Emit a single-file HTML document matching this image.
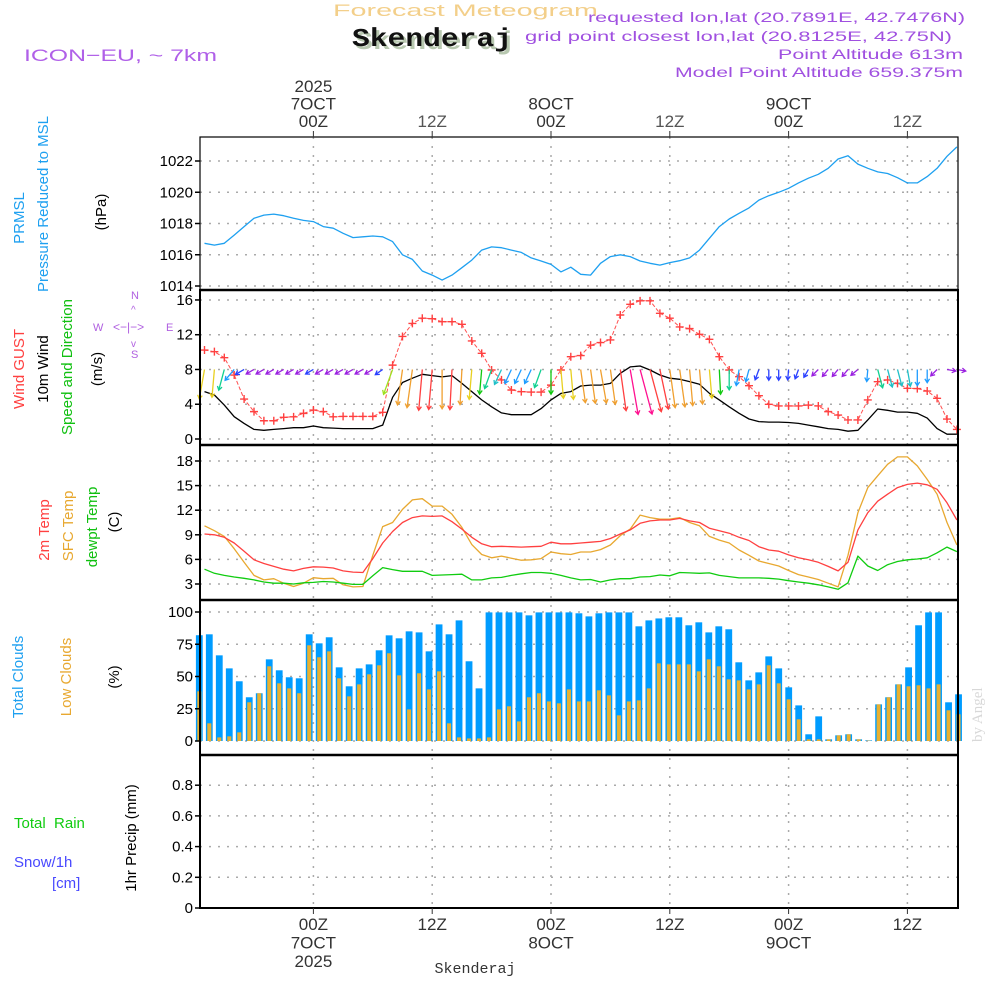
<!DOCTYPE html>
<html><head><meta charset="utf-8"><title>Forecast Meteogram Skenderaj</title>
<style>
html,body{margin:0;padding:0;background:#fff;}
svg{display:block;font-family:"Liberation Sans",sans-serif;}
</style></head>
<body>
<svg id="chart" width="1000" height="1000" viewBox="0 0 1000 1000" xmlns="http://www.w3.org/2000/svg">
<rect width="1000" height="1000" fill="#fff"/>
<text x="333" y="16" font-size="17" fill="#f3cf8a" textLength="265" lengthAdjust="spacingAndGlyphs">Forecast Meteogram</text>
<text x="355" y="49" font-family="Liberation Mono" font-weight="bold" font-size="26" fill="#b8c8b0" textLength="160" lengthAdjust="spacingAndGlyphs">Skenderaj</text>
<text x="352" y="46" font-family="Liberation Mono" font-weight="bold" font-size="26" fill="#111" textLength="160" lengthAdjust="spacingAndGlyphs">Skenderaj</text>
<text x="24" y="61" font-size="17" fill="#b060e8" textLength="193" lengthAdjust="spacingAndGlyphs">ICON−EU, ~ 7km</text>
<text x="588" y="22" font-size="14" fill="#a050e0" textLength="377" lengthAdjust="spacingAndGlyphs">requested lon,lat (20.7891E, 42.7476N)</text>
<text x="525" y="41" font-size="14" fill="#a050e0" textLength="427" lengthAdjust="spacingAndGlyphs">grid point closest lon,lat (20.8125E, 42.75N)</text>
<text x="778" y="59" font-size="14" fill="#a050e0" textLength="185" lengthAdjust="spacingAndGlyphs">Point Altitude 613m</text>
<text x="675" y="77" font-size="14" fill="#a050e0" textLength="288" lengthAdjust="spacingAndGlyphs">Model Point Altitude 659.375m</text>
<text transform="translate(982,742) rotate(-90)" font-family="Liberation Serif" font-size="15" fill="#d8d8d8">by Angel</text>

<g fill="#b060e0" font-size="11">
<text x="131" y="299">N</text><text x="93" y="331">W</text><text x="166" y="331">E</text><text x="131" y="358">S</text>
<text x="113" y="331" font-size="12">&lt;−|−&gt;</text>
<text x="131" y="313" font-size="10">^</text><text x="131" y="347" font-size="10">v</text>
</g>

<g id="labels" font-size="15"></g>
<g id="grid"></g>
<g id="marks"></g>
<g id="frames"></g>
<g id="axes"></g>
</svg>
<script>
// ---- data (hourly, index 0 = 13Z 6 OCT) ----
const pressure = [1016.73,1016.62,1016.73,1017.26,1017.8,1018.33,1018.54,1018.6,1018.5,1018.33,1018.2,1018.12,1017.8,1017.7,1017.37,1017.1,1017.15,1017.2,1017.15,1016.84,1016.0,1015.7,1014.96,1014.7,1014.38,1014.7,1015.17,1015.66,1016.3,1016.5,1016.45,1016.3,1016.15,1015.8,1015.6,1015.38,1014.9,1015.2,1014.75,1014.7,1015.45,1015.88,1016.0,1015.88,1015.6,1015.45,1015.34,1015.5,1015.62,1015.8,1016.3,1017.05,1017.8,1018.29,1018.65,1019.0,1019.5,1019.78,1020.0,1020.25,1020.6,1020.9,1021.15,1021.53,1022.13,1022.34,1021.8,1021.53,1021.3,1021.2,1020.93,1020.6,1020.6,1021.0,1021.53,1022.3,1022.9];
const gust = [10.24,10.05,9.36,7.36,4.6,3.15,2.1,2.1,2.5,2.55,2.95,3.33,3.15,2.55,2.6,2.6,2.6,2.6,3.07,8.5,11.8,13.3,13.9,13.85,13.5,13.5,13.2,11.28,9.86,7.94,6.8,5.64,5.45,5.4,5.4,6.2,7.94,9.47,9.6,10.8,11.1,11.4,14.27,15.5,15.9,15.9,14.46,13.9,12.9,12.7,12.05,11.47,9.47,7.94,7.17,6.13,4.98,3.99,3.8,3.8,3.8,3.9,3.8,3.15,2.76,2.19,2.19,4.5,6.6,6.8,6.4,5.83,5.8,5.52,4.68,2.3,1.1];
const wind10 = [5.45,5.06,3.9,2.57,1.8,1.1,1.0,1.1,1.2,1.3,1.3,1.5,1.3,1.25,1.2,1.2,1.2,1.2,1.6,4.8,6.5,7.0,7.45,7.3,7.15,7.3,6.4,5.45,4.5,3.7,3.0,2.8,2.8,2.8,3.5,4.5,5.25,5.45,6.1,6.2,6.2,6.4,7.56,8.3,8.4,7.94,7.36,7.0,6.87,6.6,6.3,5.26,4.5,3.7,2.96,2.3,2.0,1.95,1.95,1.9,1.8,1.6,1.4,1.2,1.1,0.9,1.0,2.2,3.45,3.3,3.1,3.1,2.96,2.4,1.2,0.55,0.55];
const windDir = [-10,-5,-15,-40,-60,-60,-60,-60,-60,-60,-60,-60,-60,-60,-60,-60,-60,-60,-55,-20,-8,-8,-5,-5,0,-3,-3,-5,-5,-20,-25,-25,-25,-25,-20,0,5,5,8,8,10,8,8,10,15,15,12,8,8,5,5,5,3,0,-10,-15,-20,0,0,-5,-20,-30,-45,-40,-40,-40,-50,-5,15,15,15,10,0,0,-45,80,80];
const temp2m = [9.1,9.0,8.7,8.0,7.0,5.95,5.5,5.15,4.8,4.6,4.9,5.1,5.06,4.95,4.6,4.45,4.4,6.1,8.0,9.4,10.5,11.1,11.3,11.25,11.3,10.6,9.7,8.7,7.9,7.55,7.6,7.55,7.5,7.55,7.6,8.1,7.9,7.9,8.0,8.1,8.2,8.55,9.1,9.6,10.4,10.7,10.8,10.8,11.0,10.7,10.5,9.8,9.5,9.2,8.7,8.3,7.55,7.15,7.0,6.55,6.2,5.95,5.65,5.15,4.6,5.65,9.6,11.7,13.1,13.95,14.75,15.15,15.3,15.1,14.55,12.9,10.8];
const tempSfc = [10.1,9.5,8.8,7.3,5.65,4.05,3.5,3.65,3.1,2.7,3.1,3.77,3.65,3.7,2.9,2.65,2.7,6.5,10.0,10.5,12.1,13.25,13.4,12.5,12.5,11.5,9.9,7.8,6.6,6.2,6.4,6.15,5.9,5.95,6.1,6.9,6.7,6.6,6.9,6.9,7.2,7.75,8.9,9.7,11.4,11.1,10.9,10.9,11.1,10.5,10.1,8.8,8.35,8.0,7.15,6.5,5.8,5.5,5.2,4.65,4.15,3.85,3.55,3.1,2.65,6.5,11.7,14.75,16.2,17.6,18.5,18.5,17.4,15.75,13.95,10.5,7.75];
const dewpt = [4.8,4.3,4.05,3.85,3.7,3.5,3.25,3.1,3.1,3.0,3.15,3.2,3.3,3.25,3.1,2.95,2.95,4.0,5.0,4.75,4.55,4.55,4.55,4.05,4.1,4.15,4.2,3.5,3.5,3.75,3.8,4.05,4.25,4.4,4.4,4.3,4.05,3.75,3.5,3.55,3.25,3.5,3.65,3.65,3.85,3.9,4.1,4.0,4.4,4.35,4.3,4.35,4.05,3.9,3.75,3.75,3.75,3.7,3.6,3.4,3.25,3.1,2.9,2.65,2.35,3.15,6.4,5.2,4.65,5.35,5.75,5.95,6.05,6.2,6.8,7.5,6.95];
const totalClouds = [82,82.7,66.4,56.3,46.3,33.9,37,63.3,54.8,49.4,48.6,82.7,75.7,80.4,57.1,42.4,56.3,59.4,70.3,81.9,79.6,85,84.2,69.5,90.4,82.7,93.5,61.8,40.8,99.7,99.7,99.7,99.7,97.4,99.7,99.7,99.7,99.7,99,96.6,99,99.7,99.7,99.7,88.9,93.5,95,95.9,95.9,89.7,92,84.2,88.9,86.6,61,47,53.2,65.6,56.3,41.6,27.6,5.2,19.1,1.3,4.4,5.2,1.3,0.5,28.4,33.9,43.9,57.1,89.7,99.7,99.7,30,36.2];
const lowClouds = [38.5,13.7,2.8,3.6,6.7,30,37,57.9,44.7,40.8,37,74.2,64.9,69.5,48.6,34.6,43.9,51.7,58.7,68,50.9,24.5,52.5,40,54,13.7,2.8,2,2,2.8,24.5,26.9,15.2,33.9,37,30.7,29.2,40,30.7,30.7,39.3,35.4,19.9,30.7,31.5,40.8,60.2,59.4,59.4,59.4,54,63.3,57.9,47.8,47,40,43.9,58.7,44.7,32.3,16.8,1.3,1.3,1.3,4.4,5.2,1.3,0.3,28.4,33.9,43.9,42.4,43.2,40.8,43.9,23.8,20.7];
const pTicks = [1014,1016,1018,1020,1022];
const wTicks = [0,4,8,12,16];
const tTicks = [3,6,9,12,15,18];
const cTicks = [0,25,50,75,100];
const rTicks = ["0","0.2","0.4","0.6","0.8"];
const timeTickIdx = [11,23,35,47,59,71];
const timeTopLabels = [["2025","7OCT","00Z"],["12Z"],["8OCT","00Z"],["12Z"],["9OCT","00Z"],["12Z"]];
const timeBotLabels = [["00Z","7OCT","2025"],["12Z"],["00Z","8OCT"],["12Z"],["00Z","9OCT"],["12Z"]];

// ---- layout / scales ----
const NS='http://www.w3.org/2000/svg';
const X0=200, X1=958;
const xLine = i => 204.5 + 9.9*i;
const xBar = k => 199.3 + 9.99*k;
const yP = v => 286 - (v-1014)*15.625;
const yW = v => 439 - v*8.69;
const yT = v => 584 - (v-3)*8.2;
const yC = v => 741 - v*1.29;
const yR = v => 908 - v*153.5;
const panels=[[137,290],[290,445],[445,600],[600,755],[755,908]];

function el(tag, attrs, parent){const e=document.createElementNS(NS,tag);for(const k in attrs)e.setAttribute(k,attrs[k]);parent.appendChild(e);return e;}
const G=id=>document.getElementById(id);
const grid=G('grid'), marks=G('marks'), frames=G('frames'), axes=G('axes'), labels=G('labels');

function yAxis(ticks, fy, name){
  ticks.forEach(t=>{
    const v=parseFloat(t), y=fy(v);
    const g=el('line',{x1:X0,x2:X1,y1:y,y2:y,stroke:'#aaa','stroke-width':1.5,'stroke-dasharray':'2,7'},grid);
    
    
    const tk=el('line',{x1:X0-5,x2:X0,y1:y,y2:y,stroke:'#000','stroke-width':1.5},axes);
    
    
    const tx=el('text',{x:X0-7,y:y+5,'text-anchor':'end','font-size':15,fill:'#000'},axes);
    
    
    tx.textContent=t;
  });
}
yAxis(pTicks,yP,'pressure');yAxis(wTicks,yW,'wind');yAxis(tTicks,yT,'temp');yAxis(cTicks,yC,'cloud');yAxis(rTicks,yR,'precip');

timeTickIdx.forEach((ti,j)=>{
  const x=xLine(ti);
  const v=el('line',{x1:x,x2:x,y1:137,y2:908,stroke:'#aaa','stroke-width':1.5,'stroke-dasharray':'2,7'},grid);
  
  
  const top=timeTopLabels[j];
  top.forEach((s,r)=>{
    const t=el('text',{x:x,y:127-(top.length-1-r)*17.5,'text-anchor':'middle','font-size':17,fill:s.indexOf('12Z')>=0?'#555':'#333'},axes);
    
    
    t.textContent=s;
  });
  timeBotLabels[j].forEach((s,r)=>{
    const t=el('text',{x:x,y:930+r*18.5,'text-anchor':'middle','font-size':17,fill:'#333'},axes);
    
    
    t.textContent=s;
  });
  [137,908].forEach(yy=>{
    const tk=el('line',{x1:x,x2:x,y1:yy==137?131:908,y2:yy==137?137:914,stroke:'#333','stroke-width':1},axes);
    
    
  });
});
const bl=el('text',{x:475,y:973,'text-anchor':'middle','font-family':'Liberation Mono','font-size':15,fill:'#333'},axes);


bl.textContent='Skenderaj';

totalClouds.forEach((v,k)=>{
  const r=el('rect',{x:xBar(k)-3.4,y:yC(v),width:6.8,height:yC(0)-yC(v),fill:'#009cff'},marks);
  
  
});
lowClouds.forEach((v,k)=>{
  const r=el('rect',{x:xBar(k)-2,y:yC(v),width:4,height:yC(0)-yC(v),fill:'#e8b030'},marks);
  
  
});

function line(arr, fy, color, name, w){
  const d=arr.map((v,i)=>(i?'L':'M')+xLine(i).toFixed(1)+','+fy(v).toFixed(1)).join('');
  const p=el('path',{d:d,fill:'none',stroke:color,'stroke-width':w||1.3,'stroke-linejoin':'round'},marks);
  
  
  return p;
}
line(pressure,yP,'#1ea0f0','pressure-line');
line(wind10,yW,'#000','wind10m-line');
line(gust,yW,'#ff5050','gust-line',1).setAttribute('stroke-dasharray','4,2');
gust.forEach((v,i)=>{
  const x=xLine(i), y=yW(v);
  const m=el('path',{d:`M${x-4},${y}H${x+4}M${x},${y-4}V${y+4}`,stroke:'#ff4040','stroke-width':1.4},marks);
  
  
});
line(tempSfc,yT,'#e8a830','sfc-temp-line');
line(temp2m,yT,'#ff4040','temp2m-line');
line(dewpt,yT,'#10cc10','dewpoint-line');

function spdColor(s){
  if(s<1.5)return '#9a20e0'; if(s<2.2)return '#2a40ff'; if(s<3)return '#1e9cff';
  if(s<3.4)return '#20c0c8'; if(s<4.2)return '#10d090'; if(s<4.7)return '#10c810';
  if(s<5)return '#a0e020'; if(s<5.8)return '#e8d020'; if(s<7.2)return '#f0a030';
  if(s<8.2)return '#ff4040'; return '#ff1090';
}
wind10.forEach((s,i)=>{
  const a=windDir[i]*Math.PI/180, L=Math.max(s*5.5,9);
  const x0=xLine(i), y0=yW(8);
  const dx=Math.sin(a), dy=Math.cos(a);
  const x1=x0+dx*L, y1=y0+dy*L;
  const h=4.5, c=spdColor(s);
  const hx1=x1-h*(dx*Math.cos(0.55)-dy*Math.sin(0.55)), hy1=y1-h*(dy*Math.cos(0.55)+dx*Math.sin(0.55));
  const hx2=x1-h*(dx*Math.cos(0.55)+dy*Math.sin(0.55)), hy2=y1-h*(dy*Math.cos(0.55)-dx*Math.sin(0.55));
  const p=el('path',{d:`M${x0},${y0}L${x1},${y1}M${hx1},${hy1}L${x1},${y1}L${hx2},${hy2}`,stroke:c,'stroke-width':1.3,fill:'none'},marks);
  
  
});

panels.forEach(([a,b],j)=>{
  const r=el('rect',{x:X0,y:a,width:X1-X0,height:b-a,fill:'none',stroke:'#000','stroke-width':j==0?1.2:2},frames);
  
  
});
[290,445,600,755].forEach(y=>{
  const l=el('line',{x1:X0,x2:X1,y1:y,y2:y,stroke:'#000','stroke-width':2.6},frames);
  
  
});
const base=el('line',{x1:X0,x2:X1,y1:908,y2:908,stroke:'#000','stroke-width':2,'stroke-dasharray':'6,2'},frames);



const vlabels=[
 ['PRMSL','#1ea0f0',24,218],['Pressure Reduced to MSL','#1ea0f0',48,204],['(hPa)','#000',106,212],
 ['Wind GUST','#ff4040',24,369],['10m Wind','#000',48,369],['Speed and Direction','#10c010',72,367],['(m/s)','#000',102,369],
 ['2m Temp','#ff4040',49,530],['SFC Temp','#e8a830',73,526],['dewpt Temp','#10c010',97,527],['(C)','#000',119,522],
 ['Total Clouds','#1ea0f0',23,677],['Low Clouds','#e8a830',71,677],['(%)','#000',119,677],
 ['1hr Precip (mm)','#000',136,838]
];
vlabels.forEach(([t,c,x,y])=>{
  const e=el('text',{transform:`translate(${x},${y}) rotate(-90)`,'text-anchor':'middle','font-size':15,fill:c},labels);
  
  
  e.textContent=t;
});
[['Total  Rain','#10cc10',14,828],['Snow/1h','#4848ff',14,867],['[cm]','#4848ff',52,888]].forEach(([t,c,x,y])=>{
  const e=el('text',{x:x,y:y,'font-size':15,fill:c},labels);
  
  
  e.style.whiteSpace='pre';
  e.textContent=t;
});
</script>
</body></html>
